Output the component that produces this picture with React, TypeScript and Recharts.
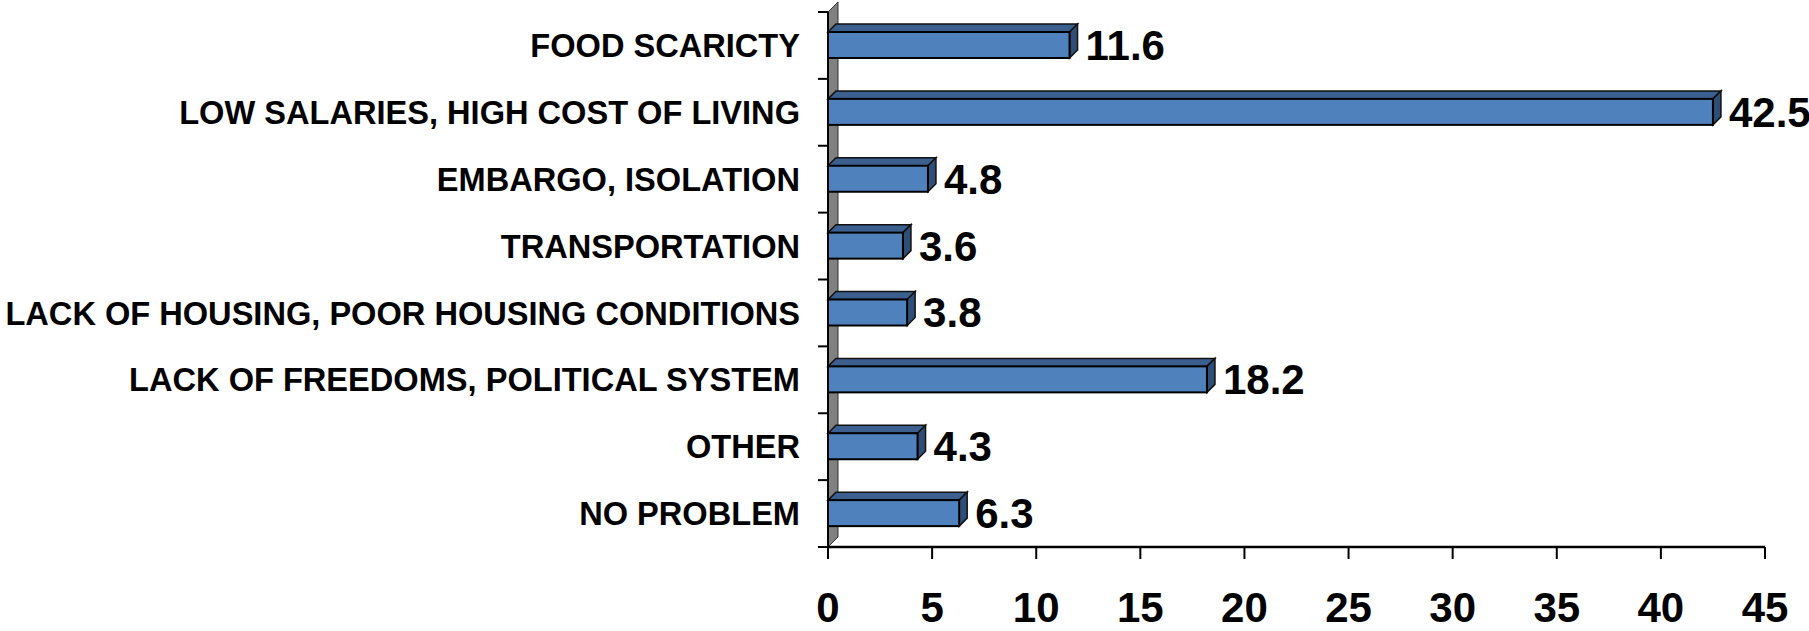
import * as R from 'recharts'
import { BarChart, Bar, XAxis, YAxis, LabelList, Customized } from 'recharts'

const categories = [
  'FOOD SCARICTY',
  'LOW SALARIES, HIGH COST OF LIVING',
  'EMBARGO, ISOLATION',
  'TRANSPORTATION',
  'LACK OF HOUSING, POOR HOUSING CONDITIONS',
  'LACK OF FREEDOMS, POLITICAL SYSTEM',
  'OTHER',
  'NO PROBLEM',
]
const values = [11.6, 42.5, 4.8, 3.6, 3.8, 18.2, 4.3, 6.3]
const xTicks = [0, 5, 10, 15, 20, 25, 30, 35, 40, 45]

const data = categories.map((name, i) => ({ name, value: values[i] }))

const FONT = '"Liberation Sans", Arial, sans-serif'
const DEPTH = 8

const usePlot: () => any = (R as any).usePlotArea ?? (R as any).useOffset

function Bar3D(props: any) {
  const { x, y, width, height } = props
  const d = DEPTH
  return (
    <g>
      <polygon
        points={`${x},${y} ${x + d},${y - d} ${x + width + d},${y - d} ${x + width},${y}`}
        fill="#3b5f8e"
        stroke="#111"
        strokeWidth={1.5}
      />
      <polygon
        points={`${x + width},${y} ${x + width + d},${y - d} ${x + width + d},${y + height - d} ${x + width},${y + height}`}
        fill="#2f4e77"
        stroke="#111"
        strokeWidth={1.5}
      />
      <rect x={x} y={y} width={width} height={height} fill="#4f81bd" stroke="#000" strokeWidth={2} />
    </g>
  )
}

// grey 3D wall behind the category axis, plus tick marks between categories
function Wall() {
  const area = usePlot()
  if (!area) return null
  const px = area.x ?? area.left
  const py = area.y ?? area.top
  const ph = area.height
  const d = DEPTH + 2
  const step = ph / categories.length
  return (
    <g>
      <polygon
        points={`${px},${py} ${px + d},${py - d} ${px + d},${py + ph - d} ${px},${py + ph}`}
        fill="#808080"
        stroke="#333"
        strokeWidth={1}
      />
      {categories.map((_, i) => (
        <line key={i} x1={px - 10} x2={px} y1={py + i * step} y2={py + i * step} stroke="#000" strokeWidth={2} />
      ))}
      <line x1={px - 10} x2={px} y1={py + ph} y2={py + ph} stroke="#000" strokeWidth={2} />
    </g>
  )
}

export default function App() {
  return (
    <div style={{ position: 'absolute', left: 0, top: 0, background: '#fff' }}>
      <BarChart
        width={1809}
        height={631}
        data={data}
        layout="vertical"
        margin={{ top: 12, right: 44, bottom: 0, left: 0 }}
        barSize={26}
      >
        <Customized component={Wall} />
        <XAxis
          type="number"
          domain={[0, 45]}
          ticks={xTicks}
          height={84}
          tickSize={12}
          tickMargin={33}
          axisLine={{ stroke: '#000', strokeWidth: 2.5 }}
          tickLine={{ stroke: '#000', strokeWidth: 2 }}
          tick={{ fill: '#000', fontSize: 42, fontWeight: 'bold', fontFamily: FONT }}
          interval={0}
        />
        <YAxis
          type="category"
          dataKey="name"
          width={828}
          tickLine={false}
          tickSize={10}
          tickMargin={18}
          axisLine={{ stroke: '#000', strokeWidth: 2 }}
          tick={{ fill: '#000', fontSize: 32.6, fontWeight: 'bold', fontFamily: FONT }}
          interval={0}
        />
        <Bar dataKey="value" shape={<Bar3D />} isAnimationActive={false}>
          <LabelList
            dataKey="value"
            position="right"
            offset={16}
            style={{ fill: '#000', fontSize: 42, fontWeight: 'bold', fontFamily: FONT }}
          />
        </Bar>
      </BarChart>
    </div>
  )
}
